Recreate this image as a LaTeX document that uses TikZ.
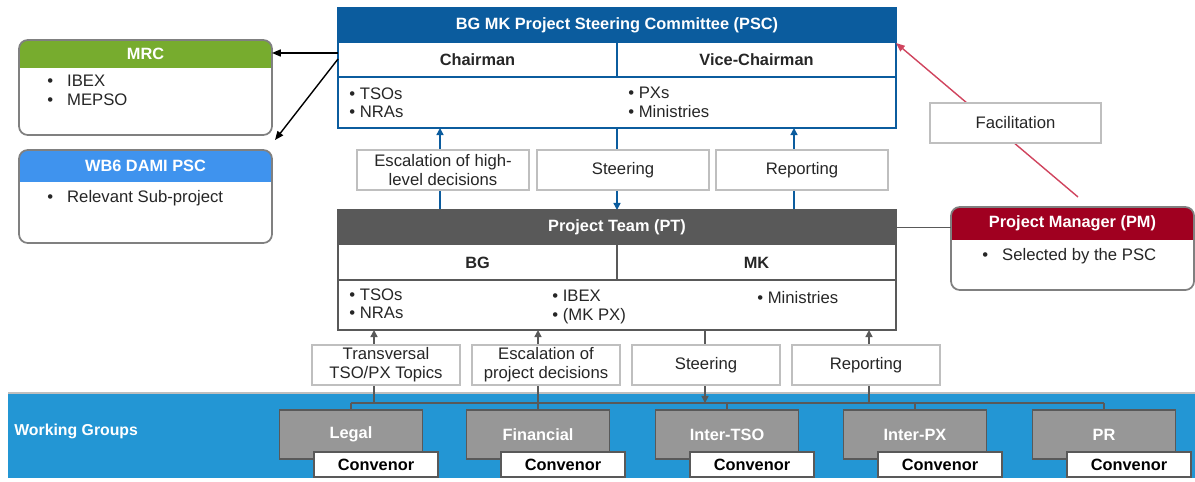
\documentclass[tikz,border=0pt]{standalone}
\usepackage{fontspec}
\setmainfont{Liberation Sans}
\usetikzlibrary{arrows.meta,calc,positioning}
\definecolor{pscblue}{HTML}{0B5C9E}
\definecolor{ptgray}{HTML}{595959}
\definecolor{mrcgreen}{HTML}{77AC2E}
\definecolor{damiblue}{HTML}{3F93EE}
\definecolor{pmred}{HTML}{A00020}
\definecolor{wgblue}{HTML}{2396D4}
\definecolor{wggray}{HTML}{979797}
\definecolor{lblgray}{HTML}{BFBFBF}
\definecolor{facred}{HTML}{D0445E}
\definecolor{txtgray}{HTML}{262626}
\newcommand{\pxu}{0.02cm}
\tikzset{
  sized/.style 2 args={minimum width=#1*\pxu, minimum height=#2*\pxu, inner sep=0pt, outer sep=0pt},
  titlebar/.style={fill=#1, text=white, font=\fontsize{9.3}{10}\selectfont\bfseries},
  cellhead/.style={font=\fontsize{9.3}{10}\selectfont\bfseries, text=txtgray},
  listtext/.style={align=left, inner sep=0pt, text=txtgray, anchor=north west},
  lblbox/.style={draw=lblgray, fill=white, align=center, line width=0.6pt, text=txtgray},
  roundbox/.style={draw=gray, line width=1pt, rounded corners=5pt},
  wgbox/.style={sized={143}{49}, fill=wggray, draw=ptgray, line width=0.8pt, text=white, font=\fontsize{9.3}{10}\selectfont\bfseries},
  convbox/.style={sized={124}{25}, fill=white, draw=ptgray, line width=0.6pt, font=\fontsize{9.3}{10}\selectfont\bfseries},
  bluearrow/.style={draw=pscblue, line width=0.8pt, -{Triangle[length=4pt,width=4pt]}},
  grayarrow/.style={draw=ptgray, line width=0.8pt, -{Triangle[length=4pt,width=4pt]}},
}

\begin{document}
\begin{tikzpicture}[x=0.02cm, y=-0.02cm, font=\fontsize{9.5}{10.8}\selectfont]
    \useasboundingbox (0,0) rectangle (1195,481);

    % working groups band
    \node[sized={1187}{85}, fill=wgblue, anchor=north west] (wgband) at (8,393) {};
    \draw[lblgray, line width=0.8pt] (wgband.north west) -- (wgband.north east);
    \node[text=white, font=\fontsize{9}{10}\selectfont\bfseries, anchor=west, inner sep=0pt] (wglbl) at (14,431) {Working Groups};

    % left boxes: MRC and WB6 DAMI PSC
    \node[sized={253}{95}, fill=white] (mrc) at (145.5,87.5) {};
    \begin{scope}
      \clip[rounded corners=5pt] (mrc.south west) rectangle (mrc.north east);
      \node[sized={253}{28}, titlebar=mrcgreen] (mrct) at (145.5,54) {MRC};
    \end{scope}
    \draw[roundbox] (mrc.south west) rectangle (mrc.north east);
    \node[listtext] (mrcl) at (47,75) {\textbullet\hspace{2.8mm}IBEX\\\textbullet\hspace{2.8mm}MEPSO};

    \node[sized={253}{93}, fill=white] (dami) at (145.5,196.5) {};
    \begin{scope}
      \clip[rounded corners=5pt] (dami.south west) rectangle (dami.north east);
      \node[sized={253}{32}, titlebar=damiblue] (damit) at (145.5,166) {WB6 DAMI PSC};
    \end{scope}
    \draw[roundbox] (dami.south west) rectangle (dami.north east);
    \node[listtext] (damil) at (47,190) {\textbullet\hspace{2.8mm}Relevant Sub-project};

    % project steering committee
    \node[sized={558}{35}, titlebar=pscblue] (psct) at (617,25.5) {BG MK Project Steering Committee (PSC)};
    \node[sized={279}{34}, cellhead] (pscc1) at (477.5,60) {Chairman};
    \node[sized={279}{34}, cellhead] (pscc2) at (756.5,60) {Vice-Chairman};
    \draw[pscblue, line width=0.6pt] (pscc1.south west) -- (pscc2.south east);
    \draw[pscblue, line width=0.6pt] (pscc1.north east) -- (pscc1.south east);
    \node[sized={558}{120}, draw=pscblue, line width=0.9pt] (psc) at (617,68) {};
    \node[listtext] (pscl1) at (349,87) {\textbullet~TSOs\\\textbullet~NRAs};
    \node[listtext] (pscl2) at (628,87) {\textbullet~PXs\\\textbullet~Ministries};

    % arrows PSC <-> PT
    \coordinate (pscin1) at (440,128);
    \coordinate (pscin2) at (794,128);
    \node[sized={558}{120}] (pt) at (617,270) {};
    \draw[bluearrow] (pscin1 |- pt.north) -- (pscin1);
    \draw[bluearrow] (pscin2 |- pt.north) -- (pscin2);
    \draw[bluearrow] (psc.south) -- (pt.north);
    \node[lblbox, sized={172}{40}] (esc1) at (443,170) {Escalation of high-\\level decisions};
    \node[lblbox, sized={172}{40}] (steer1) at (623,170) {Steering};
    \node[lblbox, sized={172}{40}] (rep1) at (802,170) {Reporting};

    % project team
    \node[sized={558}{35}, titlebar=ptgray] (ptt) at (617,227.5) {Project Team (PT)};
    \node[sized={279}{35}, cellhead] (ptc1) at (477.5,262.5) {BG};
    \node[sized={279}{35}, cellhead] (ptc2) at (756.5,262.5) {MK};
    \draw[ptgray, line width=0.6pt] (ptc1.south west) -- (ptc2.south east);
    \draw[ptgray, line width=0.6pt] (ptc1.north east) -- (ptc1.south east);
    \draw[ptgray, line width=0.9pt] (pt.south west) rectangle (pt.north east);
    \node[listtext] (ptl1) at (349,288) {\textbullet~TSOs\\\textbullet~NRAs};
    \node[listtext] (ptl2) at (552,290) {\textbullet~IBEX\\\textbullet~(MK PX)};
    \node[listtext] (ptl3) at (757,291) {\textbullet~Ministries};

    % project manager
    \node[sized={243}{83}, fill=white] (pm) at (1072.5,248.5) {};
    \begin{scope}
      \clip[rounded corners=5pt] (pm.south west) rectangle (pm.north east);
      \node[sized={243}{33}, titlebar=pmred] (pmt) at (1072.5,223.5) {Project Manager (PM)};
    \end{scope}
    \draw[roundbox] (pm.south west) rectangle (pm.north east);
    \node[listtext] (pml) at (982,248) {\textbullet\hspace{2.8mm}Selected by the PSC};
    \draw[ptgray, line width=0.8pt] (ptt.east) -- (ptt.east -| pm.west);

    % facilitation
    \coordinate (facfrom) at (1078,197);
    \draw[facred, line width=0.8pt, -{Triangle[length=5pt,width=4pt]}] (facfrom) -- (psct.south east);
    \node[lblbox, sized={171}{40}] (fac) at (1015.5,123) {Facilitation};

    % PSC to left boxes
    \draw[line width=0.8pt, -{Triangle[length=5pt,width=4pt]}] (psc.west |- 0,53) -- (mrc.east |- 0,53);
    \draw[line width=0.8pt, -{Triangle[length=5pt,width=4pt]}] (psc.west |- 0,59) -- (275,140);

    % working group tree
    \coordinate (busl) at (351,403);
    \coordinate (busr) at (1104,403);
    \draw[ptgray, line width=0.8pt] (busl) -- (busr);
    \coordinate (ptin1) at (374,330);
    \coordinate (ptin2) at (538,330);
    \coordinate (ptout) at (705,330);
    \coordinate (ptin3) at (869,330);
    \draw[grayarrow] (ptin1 |- busl) -- (ptin1);
    \draw[grayarrow] (ptin2 |- busl) -- (ptin2);
    \draw[grayarrow] (ptin3 |- busl) -- (ptin3);
    \draw[grayarrow] (ptout) -- (ptout |- busl);
    \node[lblbox, sized={148}{40}] (trans) at (386,365) {Transversal\\TSO/PX Topics};
    \node[lblbox, sized={148}{40}] (esc2) at (546,365) {Escalation of\\project decisions};
    \node[lblbox, sized={148}{40}] (steer2) at (706,365) {Steering};
    \node[lblbox, sized={148}{40}] (rep2) at (866,365) {Reporting};

    \foreach \name/\cx [count=\i] in {Legal/351, Financial/538, Inter-TSO/727, Inter-PX/915, PR/1104} {
      \draw[ptgray, line width=0.8pt] (\cx,403) -- (\cx,410);
      \node[wgbox] (wg\i) at (\cx,434.5) {\name};
      \node[convbox] (conv\i) at (\cx+25,464.5) {Convenor};
    }
\end{tikzpicture}
\end{document}
